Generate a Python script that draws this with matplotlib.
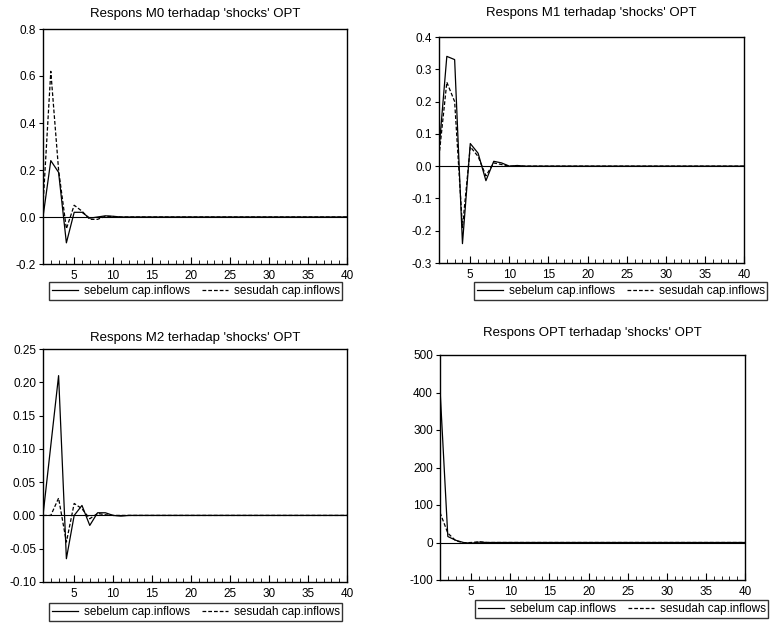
"""
Impulse responses of M0, M1, M2 and OPT to OPT shocks,
before and after capital inflows (EViews-style 2x2 panel).
"""

import matplotlib
matplotlib.use("Agg")
import matplotlib.pyplot as plt
import numpy as np

plt.rcParams["font.family"] = ["Liberation Sans", "DejaVu Sans"]

PERIODS = np.arange(1, 41)
TAIL = [0.0] * 28   # responses have died out after period 12

# Respons M0
m0_before = [0.00, 0.24, 0.19, -0.11, 0.02, 0.02, -0.005, 0.00, 0.005, 0.003, 0.0, 0.0] + TAIL
m0_after  = [0.05, 0.62, 0.20, -0.05, 0.05, 0.025, -0.01, -0.01, 0.003, 0.002, 0.0, 0.0] + TAIL

# Respons M1
m1_before = [0.05, 0.34, 0.33, -0.24, 0.07, 0.04, -0.045, 0.015, 0.01, 0.0, 0.002, 0.0] + TAIL
m1_after  = [0.03, 0.26, 0.20, -0.19, 0.06, 0.03, -0.03, 0.01, 0.005, 0.0, 0.0, 0.0] + TAIL

# Respons M2
m2_before = [0.00, 0.105, 0.21, -0.065, 0.0, 0.015, -0.015, 0.004, 0.004, 0.0, -0.001, 0.0] + TAIL
m2_after  = [0.00, 0.00, 0.026, -0.04, 0.018, 0.01, -0.005, 0.003, 0.001, 0.0, 0.0, 0.0] + TAIL

# Respons OPT
opt_before = [410.0, 16.0, 6.0, 0.0, -2.0, 1.0, 0.0, 0.0, 0.0, 0.0, 0.0, 0.0] + TAIL
opt_after  = [80.0, 25.0, 5.0, -1.0, 0.0, 2.0, 0.0, 0.0, 0.0, 0.0, 0.0, 0.0] + TAIL

TITLES = ["Respons M0 terhadap 'shocks' OPT", "Respons M1 terhadap 'shocks' OPT",
          "Respons M2 terhadap 'shocks' OPT", "Respons OPT terhadap 'shocks' OPT"]
LABELS = ["sebelum cap.inflows", "sesudah cap.inflows"]

Y_TICKS = [
    [-0.2, 0.0, 0.2, 0.4, 0.6, 0.8],
    [-0.3, -0.2, -0.1, 0.0, 0.1, 0.2, 0.3, 0.4],
    [-0.10, -0.05, 0.00, 0.05, 0.10, 0.15, 0.20, 0.25],
    [-100, 0, 100, 200, 300, 400, 500],
]
Y_FMT = ["{:.1f}", "{:.1f}", "{:.2f}", "{:.0f}"]

W, H = 770, 630
# axes boxes in pixels: left, top, right, bottom
BOXES = [(43, 29, 347, 264), (439, 37, 744, 263),
         (43, 349, 347, 582), (440, 355, 745, 580)]
TITLE_PAD = [9, 15, 6, 14]
LEGEND_POS = [(49, 282), (474, 282), (49, 603), (475, 600)]

fig = plt.figure(figsize=(W / 100, H / 100), dpi=100)

series = [(m0_before, m0_after), (m1_before, m1_after),
          (m2_before, m2_after), (opt_before, opt_after)]

for i, (before, after) in enumerate(series):
    l, t, r, b = BOXES[i]
    ax = fig.add_axes([l / W, 1 - b / H, (r - l) / W, (b - t) / H])
    h1, = ax.plot(PERIODS, before, color="black", lw=0.9, label=LABELS[0])
    h2, = ax.plot(PERIODS, after, color="black", lw=0.9,
                  linestyle=(0, (3, 1.6)), label=LABELS[1])
    ax.axhline(0, color="black", lw=0.8)

    ax.set_xlim(1, 40)
    ax.set_ylim(Y_TICKS[i][0], Y_TICKS[i][-1])
    ax.set_xticks([5, 10, 15, 20, 25, 30, 35, 40])
    ax.set_xticks(PERIODS, minor=True)
    ax.set_yticks(Y_TICKS[i])
    ax.set_yticklabels([Y_FMT[i].format(v) for v in Y_TICKS[i]])
    ax.tick_params(axis="x", which="both", direction="in", labelsize=8.5, pad=4)
    ax.tick_params(axis="x", which="major", length=5)
    ax.tick_params(axis="x", which="minor", length=3)
    ax.tick_params(axis="y", direction="out", length=3, labelsize=8.5, pad=2)
    for sp in ax.spines.values():
        sp.set_linewidth(1.0)
    ax.set_title(TITLES[i], fontsize=9.5, pad=TITLE_PAD[i])

    lx, ly = LEGEND_POS[i]
    fig.legend(handles=[h1, h2], loc="upper left",
               bbox_to_anchor=(lx / W, 1 - ly / H), ncol=2,
               fontsize=8.5, frameon=True, fancybox=False,
               edgecolor="black", handlelength=2.2, handletextpad=0.5,
               columnspacing=1.0, borderpad=0.25, borderaxespad=0)

fig.savefig("out.png", dpi=100)
